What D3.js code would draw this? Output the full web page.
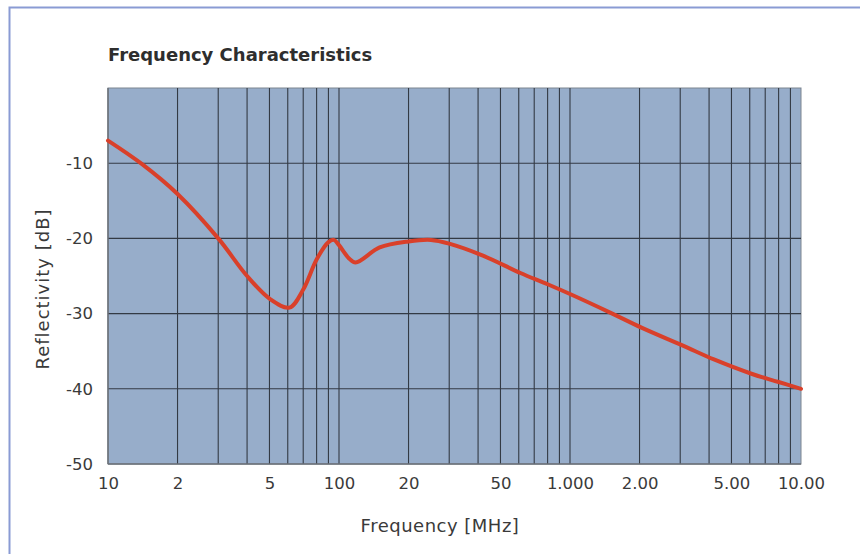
<!DOCTYPE html>
<html><head><meta charset="utf-8">
<script src="https://cdn.jsdelivr.net/npm/d3@7"></script>
<style>
html,body{margin:0;padding:0;background:#fff;}
svg{display:block;font-family:"DejaVu Sans","Open Sans",sans-serif;}
</style></head>
<body>
<svg id="c" width="860" height="554"></svg>
<script>
// Data
const freqs = [10, 14, 20, 30, 40, 50, 61, 70, 80, 90, 95, 100, 110, 118, 150, 200, 250, 300, 420, 610, 800, 1000, 1500, 2050, 3100, 4200, 6100, 8000, 10000];
const reflectivity = [-7.0, -10.1, -14.1, -20.0, -25.0, -28.0, -29.2, -26.8, -22.8, -20.5, -20.2, -20.9, -22.6, -23.2, -21.2, -20.4, -20.2, -20.7, -22.3, -24.6, -26.1, -27.4, -29.9, -31.9, -34.3, -36.1, -38.0, -39.1, -40.0];
const xTickValues = [10, 20, 50, 100, 200, 500, 1000, 2000, 5000, 10000];
const xTickLabels = ["10", "2", "5", "100", "20", "50", "1.000", "2.00", "5.00", "10.00"];
const yTickValues = [-10, -20, -30, -40, -50];
const yTickLabels = ["-10", "-20", "-30", "-40", "-50"];
const yDomain = [-50, 0];
const xDomain = [10, 10000];

const svg = d3.select("#c");
const L = 108, R = 801, T = 88, B = 464;

// outer frame
svg.append("path").attr("d", "M9.5,554 V7.5 H860").attr("fill", "none")
  .attr("stroke", "#8a9bd4").attr("stroke-width", 2);

const x = d3.scaleLog().domain(xDomain).range([L, R]);
const y = d3.scaleLinear().domain(yDomain).range([B, T]);

svg.append("rect").attr("x", L).attr("y", T).attr("width", R - L).attr("height", B - T)
  .attr("fill", "#97adca").attr("stroke", "#7d8590").attr("stroke-width", 1);

// vertical grid (all log ticks)
const minor = x.ticks().filter(v => v > 10 && v < 10000);
svg.append("g").selectAll("line").data(minor).join("line")
  .attr("x1", d => x(d)).attr("x2", d => x(d)).attr("y1", T).attr("y2", B)
  .attr("stroke", "#333a44").attr("stroke-width", 1.1);

// horizontal grid
svg.append("g").selectAll("line").data(yTickValues.filter(v => v > -50)).join("line")
  .attr("x1", L).attr("x2", R).attr("y1", d => y(d)).attr("y2", d => y(d))
  .attr("stroke", "#333a44").attr("stroke-width", 1.1);

// bottom & left edges
svg.append("line").attr("x1", L).attr("x2", R).attr("y1", B).attr("y2", B).attr("stroke", "#6b7078").attr("stroke-width", 1.5);
svg.append("line").attr("x1", L).attr("x2", L).attr("y1", T).attr("y2", B).attr("stroke", "#6b7078").attr("stroke-width", 1.5);

// axes labels via d3 axes
const xAxis = d3.axisBottom(x).tickValues(xTickValues)
  .tickFormat((d, i) => xTickLabels[i]).tickSize(0).tickPadding(13);
const gx = svg.append("g").attr("transform", `translate(0,${B})`).call(xAxis);
gx.select(".domain").remove();
gx.selectAll("text").attr("font-size", 16.5).attr("font-family", "DejaVu Sans").attr("fill", "#3a3a3a");

const yAxis = d3.axisLeft(y).tickValues(yTickValues)
  .tickFormat((d, i) => yTickLabels[i]).tickSize(0).tickPadding(15);
const gy = svg.append("g").attr("transform", `translate(${L},0)`).call(yAxis);
gy.select(".domain").remove();
gy.selectAll("text").attr("font-size", 16.5).attr("font-family", "DejaVu Sans").attr("fill", "#3a3a3a");

// curve
const line = d3.line().x((d, i) => x(freqs[i])).y(d => y(d)).curve(d3.curveCatmullRom.alpha(0.5));
svg.append("path").datum(reflectivity).attr("d", line)
  .attr("fill", "none").attr("stroke", "#d9402a").attr("stroke-width", 4)
  .attr("stroke-linejoin", "round").attr("stroke-linecap", "round");

// title
svg.append("text").attr("x", L).attr("y", 61).text("Frequency Characteristics")
  .attr("font-size", 18).attr("font-weight", "bold").attr("fill", "#2e2e2e");

svg.append("text").attr("x", 440).attr("y", 532).attr("text-anchor", "middle")
  .text("Frequency [MHz]").attr("font-size", 18).attr("letter-spacing", 0.5).attr("fill", "#3a3a3a");

svg.append("text").attr("transform", "translate(49,289) rotate(-90)").attr("text-anchor", "middle")
  .text("Reflectivity [dB]").attr("font-size", 18).attr("letter-spacing", 1).attr("fill", "#3a3a3a");
</script>
</body></html>
